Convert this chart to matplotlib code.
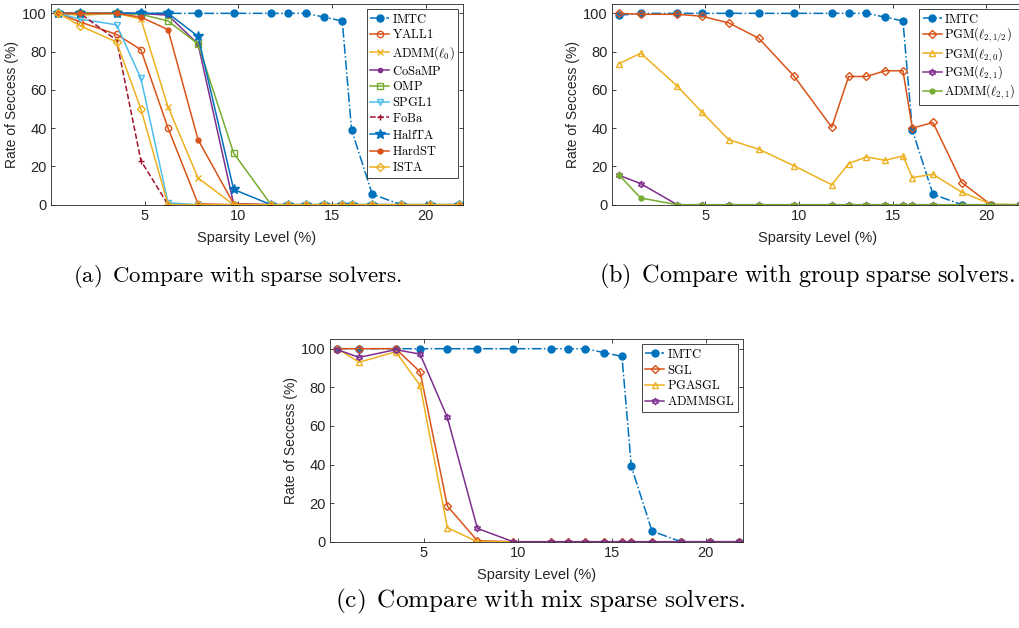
import numpy as np
import matplotlib
matplotlib.use("Agg")
import matplotlib.pyplot as plt

plt.rcParams['font.family'] = ['Liberation Sans', 'DejaVu Sans']
plt.rcParams['mathtext.fontset'] = 'cm'

# sparsity levels (%) shared by every panel
sparsity = [0.4, 1.55, 3.5, 4.8, 6.25, 7.85, 9.75, 11.75, 12.65, 13.6,
            14.6, 15.55, 16.05, 17.15, 18.7, 20.25, 21.8]

imtc = [100, 100, 100, 100, 100, 100, 100, 100, 100, 100, 98, 96, 39, 5.5, 0, 0, 0]
imtc_b = [99, 100, 100, 100, 100, 100, 100, 100, 100, 100, 98, 96, 39, 5.5, 0, 0, 0]

# (a) sparse solvers
yall1 = [100, 95.5, 89, 81, 40, 0.5, 0, 0, 0, 0, 0, 0, 0, 0, 0, 0, 0]
admm_l0 = [100, 99, 100, 97, 51, 14, 0, 0, 0, 0, 0, 0, 0, 0, 0, 0, 0]
cosamp = [100, 100, 100, 100, 99, 84, 0.5, 0, 0, 0, 0, 0, 0, 0, 0, 0, 0]
omp = [100, 100, 100, 99.5, 96, 84, 27, 0, 0, 0, 0, 0, 0, 0, 0, 0, 0]
spgl1 = [100, 97, 94, 66, 1, 0, 0, 0, 0, 0, 0, 0, 0, 0, 0, 0, 0]
foba = [100, 100, 86, 23, 0, 0, 0, 0, 0, 0, 0, 0, 0, 0, 0, 0, 0]
halfta = [100, 100, 100, 100, 100, 88, 8, 0, 0, 0, 0, 0, 0, 0, 0, 0, 0]
hardst = [100, 100, 100, 98, 91.5, 34, 0.5, 0, 0, 0, 0, 0, 0, 0, 0, 0, 0]
ista = [100, 93.5, 85, 50, 0, 0, 0, 0, 0, 0, 0, 0, 0, 0, 0, 0, 0]

# (b) group sparse solvers
pgm_l2half = [100, 99.5, 99.5, 98.5, 95, 87, 67, 40.5, 67, 67, 70, 70, 40, 43, 11.5, 0, 0]
pgm_l20 = [73.7, 79.2, 62, 48.5, 34, 29, 20.3, 10.4, 21.5, 25, 23.2, 25.5, 14.2, 15.9, 6.5, 0.3, 0]
pgm_l21 = [15.4, 11, 0, 0, 0, 0, 0, 0, 0, 0, 0, 0, 0, 0, 0, 0, 0]
admm_l21 = [15.4, 3.5, 0, 0, 0, 0, 0, 0, 0, 0, 0, 0, 0, 0, 0, 0, 0]

# (c) mixed sparse solvers
sgl = [100, 100, 100, 88, 18.5, 0.5, 0, 0, 0, 0, 0, 0, 0, 0, 0, 0, 0]
pgasgl = [100, 93, 98.4, 81, 7.3, 0, 0, 0, 0, 0, 0, 0, 0, 0, 0, 0, 0]
admmsgl = [99.5, 95.5, 99.5, 97.2, 64.4, 6.9, 0, 0, 0, 0, 0, 0, 0, 0, 0, 0, 0]

C_BLUE = '#0072BD'
C_ORANGE = '#D95319'
C_YELLOW = '#EDB120'
C_PURPLE = '#7E2F8E'
C_GREEN = '#77AC30'
C_CYAN = '#4DBEEE'
C_RED = '#A2142F'
HEXAGRAM = (6, 1, 0)

fig = plt.figure(figsize=(10.2, 6.28), dpi=100)


def style_axes(ax):
    ax.set_xlim(0, 22)
    ax.set_ylim(0, 105)
    ax.set_xticks([5, 10, 15, 20])
    ax.set_yticks([0, 20, 40, 60, 80, 100])
    ax.tick_params(direction='in', top=True, right=True, length=3,
                   width=0.6, labelsize=10.5, colors='#262626', pad=3)
    for s in ax.spines.values():
        s.set_color('#262626')
        s.set_linewidth(0.6)
    ax.set_xlabel('Sparsity Level (%)', fontsize=10.5, color='#262626', labelpad=6)
    ax.set_ylabel('Rate of Seccess (%)', fontsize=10, color='#262626', labelpad=2)


def curve(ax, y, color, marker, label, ls='-', filled=False, ms=4.5):
    ax.plot(sparsity, y, ls=ls, color=color, marker=marker, lw=1.1,
            markersize=ms, markeredgewidth=1.0,
            markerfacecolor=color if filled else 'none', label=label)


def add_legend(ax, spacing=0.22):
    leg = ax.legend(loc='upper right', fontsize=9, labelspacing=spacing,
                    handlelength=1.5, handletextpad=0.2, borderpad=0.3,
                    borderaxespad=0.4, fancybox=False, framealpha=1)
    leg.get_frame().set_edgecolor('#262626')
    leg.get_frame().set_linewidth(0.6)


# (a)
ax1 = fig.add_axes([0.050, 0.674, 0.404, 0.320])
curve(ax1, imtc, C_BLUE, 'o', r'$\mathrm{IMTC}$', ls='-.', filled=True, ms=5)
curve(ax1, yall1, C_ORANGE, 'o', r'$\mathrm{YALL1}$')
curve(ax1, admm_l0, C_YELLOW, 'x', r'$\mathrm{ADMM}(\ell_0)$', ms=4)
curve(ax1, cosamp, C_PURPLE, '.', r'$\mathrm{CoSaMP}$', filled=True, ms=6)
curve(ax1, omp, C_GREEN, 's', r'$\mathrm{OMP}$', ms=4)
curve(ax1, spgl1, C_CYAN, 'v', r'$\mathrm{SPGL1}$')
curve(ax1, foba, C_RED, '+', r'$\mathrm{FoBa}$', ls='--')
curve(ax1, halfta, C_BLUE, '*', r'$\mathrm{HalfTA}$', filled=True, ms=7)
curve(ax1, hardst, C_ORANGE, '.', r'$\mathrm{HardST}$', filled=True, ms=7)
curve(ax1, ista, C_YELLOW, 'D', r'$\mathrm{ISTA}$', ms=4)
style_axes(ax1)
add_legend(ax1)

# (b)
ax2 = fig.add_axes([0.5997, 0.674, 0.404, 0.320])
curve(ax2, imtc_b, C_BLUE, 'o', r'$\mathrm{IMTC}$', ls='-.', filled=True, ms=5)
curve(ax2, pgm_l2half, C_ORANGE, 'D', r'$\mathrm{PGM}(\ell_{2,1/2})$', ms=4)
curve(ax2, pgm_l20, C_YELLOW, '^', r'$\mathrm{PGM}(\ell_{2,0})$', ms=5)
curve(ax2, pgm_l21, C_PURPLE, HEXAGRAM, r'$\mathrm{PGM}(\ell_{2,1})$', ms=5)
curve(ax2, admm_l21, C_GREEN, '.', r'$\mathrm{ADMM}(\ell_{2,1})$', filled=True, ms=7)
style_axes(ax2)
add_legend(ax2, spacing=0.02)

# (c)
ax3 = fig.add_axes([0.3235, 0.1374, 0.405, 0.3227])
curve(ax3, imtc, C_BLUE, 'o', r'$\mathrm{IMTC}$', ls='-.', filled=True, ms=5)
curve(ax3, sgl, C_ORANGE, 'D', r'$\mathrm{SGL}$', ms=4)
curve(ax3, pgasgl, C_YELLOW, '^', r'$\mathrm{PGASGL}$', ms=5)
curve(ax3, admmsgl, C_PURPLE, HEXAGRAM, r'$\mathrm{ADMMSGL}$', ms=5)
style_axes(ax3)
add_legend(ax3)

# captions
cap = dict(ha='center', va='center', color='black')
fig.text(237.5 / 1020, 1 - 276 / 628, r'$\mathrm{(a)\ \,Compare\ with\ sparse\ solvers.}$',
         fontsize=16.5, **cap)
fig.text(807 / 1020, 1 - 276 / 628, r'$\mathrm{(b)\ \,Compare\ with\ group\ sparse\ solvers.}$',
         fontsize=17.4, **cap)
fig.text(540 / 1020, 1 - 601 / 628, r'$\mathrm{(c)\ \,Compare\ with\ mix\ sparse\ solvers.}$',
         fontsize=18.2, **cap)

fig.savefig('out.png', dpi=100)
